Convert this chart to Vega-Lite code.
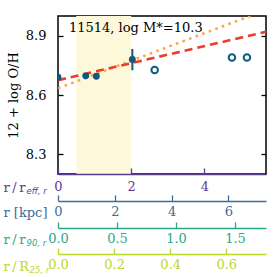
{
  "$schema": "https://vega.github.io/schema/vega-lite/v6.json",
  "width": 208,
  "height": 158,
  "autosize": "none",
  "padding": {"left": 58, "top": 16, "right": 11, "bottom": 103},
  "datasets": {
    "band": [{"r": 0.5, "r2": 2.0}],
    "err": [{"r": 2.03, "lo": 8.725, "hi": 8.833}],
    "redfit": [{"r": 0, "oh": 8.675}, {"r": 5.68, "oh": 8.92}],
    "orangefit": [{"r": 0, "oh": 8.634}, {"r": 5.68, "oh": 9.03}],
    "filled": [{"r": 0, "oh": 8.69}, {"r": 0.757, "oh": 8.697}, {"r": 1.047, "oh": 8.695}, {"r": 2.03, "oh": 8.78}],
    "open": [{"r": 2.64, "oh": 8.727}, {"r": 4.75, "oh": 8.79}, {"r": 5.16, "oh": 8.79}],
    "label": [{"r": 0.3, "oh": 8.917, "t": "11514, log M*=10.3"}],
    "ax": [{"v": 0, "oh": 8.5}]
  },
  "layer": [
    {
      "layer": [
        {
          "data": {"name": "band"},
          "mark": {"type": "rect", "color": "#fef8da"},
          "encoding": {
            "x": {"field": "r", "type": "quantitative", "scale": {"domain": [0, 5.68], "nice": false, "zero": false},
              "axis": {"orient": "bottom", "title": "r\u2009/\u2009r", "values": [0, 2, 4], "domainColor": "#5b3a8e", "domainWidth": 1.5, "tickColor": "#5b3a8e", "tickWidth": 1.3, "tickSize": -6, "labelColor": "#5b3a8e", "labelPadding": 12, "titleColor": "#5b3a8e", "titleX": -55, "titleY": 17.5, "titleAlign": "left", "titleBaseline": "alphabetic", "titleAngle": 0, "zindex": 1}},
            "x2": {"field": "r2"}
          }
        },
        {
          "data": {"name": "orangefit"},
          "mark": {"type": "line", "color": "#fda54a", "strokeWidth": 2.6, "strokeDash": [2.6, 4.4], "clip": true},
          "encoding": {
            "x": {"field": "r", "type": "quantitative"},
            "y": {"field": "oh", "type": "quantitative", "scale": {"domain": [8.2, 9.0], "nice": false, "zero": false},
              "axis": {"orient": "left", "title": "12 + log O/H", "values": [8.3, 8.6, 8.9], "format": ".1f", "domain": false, "tickColor": "black", "tickWidth": 1.3, "tickSize": -5, "labelPadding": 17, "labelColor": "black", "titlePadding": 5, "titleColor": "black", "zindex": 1}}
          }
        },
        {
          "data": {"name": "redfit"},
          "mark": {"type": "line", "color": "#ee3b2b", "strokeWidth": 2.6, "strokeDash": [8, 5], "clip": true},
          "encoding": {
            "x": {"field": "r", "type": "quantitative"},
            "y": {"field": "oh", "type": "quantitative"}
          }
        },
        {
          "data": {"name": "err"},
          "mark": {"type": "rule", "color": "#0f5a80", "strokeWidth": 2},
          "encoding": {
            "x": {"field": "r", "type": "quantitative"},
            "y": {"field": "lo", "type": "quantitative"},
            "y2": {"field": "hi"}
          }
        },
        {
          "data": {"name": "filled"},
          "mark": {"type": "point", "filled": true, "color": "#0f5a80", "size": 48, "opacity": 1, "clip": true},
          "encoding": {
            "x": {"field": "r", "type": "quantitative"},
            "y": {"field": "oh", "type": "quantitative"}
          }
        },
        {
          "data": {"name": "open"},
          "mark": {"type": "point", "filled": false, "color": "#0f5a80", "size": 42, "strokeWidth": 2, "opacity": 1},
          "encoding": {
            "x": {"field": "r", "type": "quantitative"},
            "y": {"field": "oh", "type": "quantitative"}
          }
        },
        {
          "data": {"name": "label"},
          "mark": {"type": "text", "align": "left", "baseline": "alphabetic", "font": "DejaVu Serif", "fontSize": 13, "color": "black"},
          "encoding": {
            "x": {"field": "r", "type": "quantitative"},
            "y": {"field": "oh", "type": "quantitative"},
            "text": {"field": "t"}
          }
        }
      ]
    },
    {
      "data": {"name": "ax"},
      "mark": {"type": "point", "opacity": 0},
      "encoding": {
        "x": {"field": "v", "type": "quantitative", "scale": {"domain": [0, 7.32], "nice": false, "zero": false},
          "axis": {"orient": "bottom", "offset": 27, "title": "r [kpc]", "values": [0, 2, 4, 6], "domainColor": "#3e6b98", "domainWidth": 1.5, "tickColor": "#3e6b98", "tickWidth": 1.3, "tickSize": -6, "labelColor": "#3e6b98", "labelPadding": 10.5, "titleColor": "#3e6b98", "titleX": -55, "titleY": 15.7, "titleAlign": "left", "titleBaseline": "alphabetic", "titleAngle": 0}},
        "y": {"field": "oh", "type": "quantitative", "scale": {"domain": [8.2, 9.0], "nice": false, "zero": false},
          "axis": {"orient": "right", "title": null, "labels": false, "values": [8.3, 8.6, 8.9], "domain": false, "tickColor": "black", "tickWidth": 1.3, "tickSize": -5, "zindex": 1}}
      }
    },
    {
      "data": {"name": "ax"},
      "mark": {"type": "point", "opacity": 0},
      "encoding": {
        "x": {"field": "v", "type": "quantitative", "scale": {"domain": [0, 1.763], "nice": false, "zero": false},
          "axis": {"orient": "bottom", "offset": 54, "title": "r\u2009/\u2009r", "values": [0, 0.5, 1.0, 1.5], "format": ".1f", "domainColor": "#2aa886", "domainWidth": 1.5, "tickColor": "#2aa886", "tickWidth": 1.3, "tickSize": -6, "labelColor": "#2aa886", "labelPadding": 10, "titleColor": "#2aa886", "titleX": -55, "titleY": 15.7, "titleAlign": "left", "titleBaseline": "alphabetic", "titleAngle": 0}}
      }
    },
    {
      "data": {"name": "ax"},
      "mark": {"type": "point", "opacity": 0},
      "encoding": {
        "x": {"field": "v", "type": "quantitative", "scale": {"domain": [0, 0.7415], "nice": false, "zero": false},
          "axis": {"orient": "bottom", "offset": 80, "title": "r\u2009/\u2009R", "values": [0, 0.2, 0.4, 0.6], "format": ".1f", "domainColor": "#bdd62a", "domainWidth": 1.5, "tickColor": "#bdd62a", "tickWidth": 1.3, "tickSize": -6, "labelColor": "#bdd62a", "labelPadding": 10.5, "titleColor": "#bdd62a", "titleX": -55, "titleY": 16.7, "titleAlign": "left", "titleBaseline": "alphabetic", "titleAngle": 0}}
      }
    },
    {
      "data": {"name": "ax"},
      "mark": {"type": "point", "opacity": 0},
      "encoding": {
        "x": {"field": "v", "type": "quantitative", "scale": {"domain": [0, 1]},
          "axis": {"orient": "bottom", "offset": 0, "domain": false, "ticks": false, "labels": false, "title": "eff, r", "titleFont": "DejaVu Sans", "titleFontStyle": "italic", "titleFontSize": 8.5, "titleColor": "#5b3a8e", "titleX": -32, "titleY": 19.5, "titleAlign": "left", "titleBaseline": "alphabetic", "titleAngle": 0}}
      }
    },
    {
      "data": {"name": "ax"},
      "mark": {"type": "point", "opacity": 0},
      "encoding": {
        "x": {"field": "v", "type": "quantitative", "scale": {"domain": [0, 1]},
          "axis": {"orient": "bottom", "offset": 54, "domain": false, "ticks": false, "labels": false, "title": "90, r", "titleFont": "DejaVu Sans", "titleFontStyle": "italic", "titleFontSize": 8.5, "titleColor": "#2aa886", "titleX": -32, "titleY": 17.7, "titleAlign": "left", "titleBaseline": "alphabetic", "titleAngle": 0}}
      }
    },
    {
      "data": {"name": "ax"},
      "mark": {"type": "point", "opacity": 0},
      "encoding": {
        "x": {"field": "v", "type": "quantitative", "scale": {"domain": [0, 1]},
          "axis": {"orient": "bottom", "offset": 80, "domain": false, "ticks": false, "labels": false, "title": "25, r", "titleFont": "DejaVu Sans", "titleFontStyle": "italic", "titleFontSize": 8.5, "titleColor": "#bdd62a", "titleX": -29, "titleY": 18.7, "titleAlign": "left", "titleBaseline": "alphabetic", "titleAngle": 0}}
      }
    }
  ],
  "resolve": {"scale": {"x": "independent"}, "axis": {"x": "independent", "y": "independent"}},
  "config": {
    "font": "DejaVu Serif",
    "view": {"stroke": "black", "strokeWidth": 1.5},
    "axis": {"labelFont": "DejaVu Serif", "titleFont": "DejaVu Serif", "labelFontSize": 13, "titleFontSize": 13, "titleFontWeight": "normal", "grid": false, "labelFlush": false, "labelOverlap": false}
  }
}
